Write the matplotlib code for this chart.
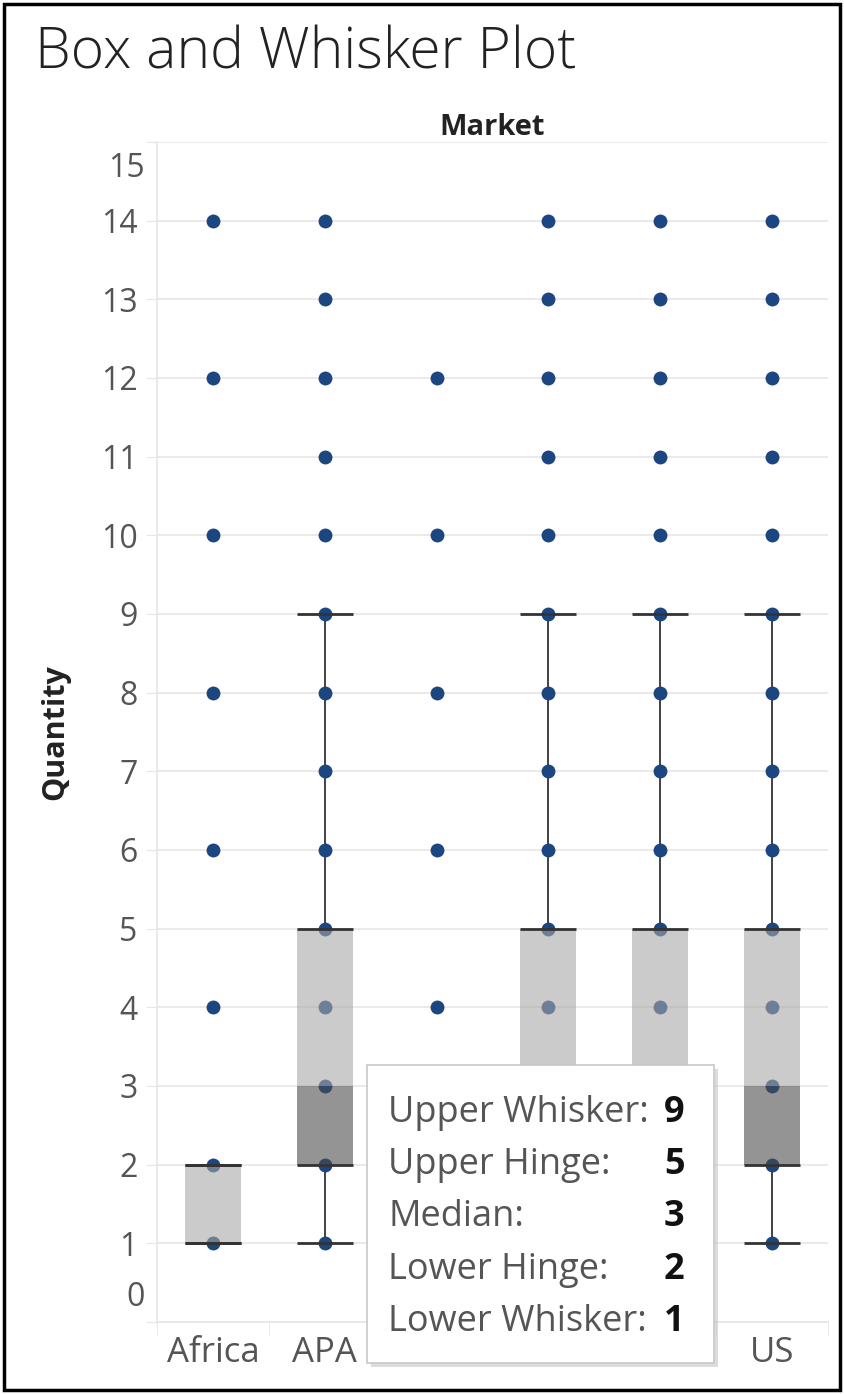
import matplotlib
matplotlib.use('Agg')
import matplotlib.pyplot as plt
from matplotlib.patches import Rectangle

plt.rcParams['font.family'] = ['Open Sans', 'DejaVu Sans']

markets = ['Africa', 'APA', 'Canada', 'EMEA', 'EU', 'US']
quantities = [
    [1, 2, 4, 6, 8, 10, 12, 14],
    list(range(1, 15)),
    [1, 2, 3, 4, 6, 8, 10, 12],
    list(range(1, 15)),
    list(range(1, 15)),
    list(range(1, 15)),
]
lower_whisker = [1, 1, 1, 1, 1, 1]
lower_hinge = [1, 2, 1, 2, 2, 2]
median = [1, 3, 2, 3, 3, 3]
upper_hinge = [2, 5, 2, 5, 5, 5]
upper_whisker = [2, 9, 3, 9, 9, 9]
tooltip_market = 'EMEA'

dot_color = '#1c4680'
grid_color = '#e6e6e6'
text_color = '#555555'

fig = plt.figure(figsize=(8.44, 13.94), dpi=100)
ax = fig.add_axes([157 / 844, 72 / 1394, 671 / 844, 1180 / 1394])

box_w = 0.5
for i, m in enumerate(markets):
    ax.plot([i] * len(quantities[i]), quantities[i], 'o', color=dot_color,
            ms=10, mec='none', zorder=3)
    # whiskers
    ax.plot([i, i], [lower_whisker[i], lower_hinge[i]], color='#222222', lw=1.2, zorder=2)
    ax.plot([i, i], [upper_hinge[i], upper_whisker[i]], color='#222222', lw=1.2, zorder=2)
    # boxes: lower part darker, upper part lighter
    ax.add_patch(Rectangle((i - box_w / 2, lower_hinge[i]), box_w, median[i] - lower_hinge[i],
                           facecolor='#4a4a4a', alpha=0.59, edgecolor='none', zorder=4))
    ax.add_patch(Rectangle((i - box_w / 2, median[i]), box_w, upper_hinge[i] - median[i],
                           facecolor='#a7a7a7', alpha=0.59, edgecolor='none', zorder=4))
    for y in [lower_whisker[i], lower_hinge[i], upper_hinge[i], upper_whisker[i]]:
        ax.plot([i - box_w / 2, i + box_w / 2], [y, y], color='#333333', lw=2, zorder=5,
                solid_capstyle='butt')

ax.set_xlim(-0.5, len(markets) - 0.5)
ax.set_ylim(0, 15)
ax.set_yticks(range(0, 16))
ax.set_yticklabels([''] + [str(v) for v in range(1, 15)] + [''])
ax.set_xticks(range(len(markets)))
ax.set_xticklabels(markets)
ax.set_xticks([i - 0.5 for i in range(len(markets) + 1)], minor=True)
ax.tick_params(axis='y', length=8, color=grid_color, labelsize=23, labelcolor=text_color, pad=6)
ax.tick_params(axis='x', which='major', length=0, labelsize=25, labelcolor=text_color, pad=10)
ax.tick_params(axis='x', which='minor', length=9, color=grid_color)
ax.grid(axis='y', color=grid_color, lw=1.2)
ax.set_axisbelow(True)
for s in ['top', 'right']:
    ax.spines[s].set_visible(False)
for s in ['left', 'bottom']:
    ax.spines[s].set_color(grid_color)
    ax.spines[s].set_linewidth(1.2)

# Tableau keeps the end labels inside the axis range
ax.annotate('0', xy=(0, 0), xycoords=('axes fraction', 'data'), xytext=(-9, 18),
            textcoords='offset points', ha='right', va='center', fontsize=23, color=text_color)
ax.annotate('15', xy=(0, 15), xycoords=('axes fraction', 'data'), xytext=(-9, -19),
            textcoords='offset points', ha='right', va='center', fontsize=23, color=text_color)

ax.set_ylabel('Quantity', fontsize=22, fontweight='bold', color='#222222')
ax.yaxis.set_label_coords(-0.13, 0.5)
ax.set_title('Market', fontsize=21, fontweight='bold', color='#222222', pad=4)

fig.text(35 / 844, 1 - 54 / 1394, 'Box and Whisker Plot', fontsize=41, fontweight='light',
         color='#222222', va='center', ha='left')

# hover tooltip
k = markets.index(tooltip_market)
tx0, ty0, tw, th = 367 / 844, 31 / 1394, 347 / 844, 298 / 1394
fig.patches.append(Rectangle((tx0 + 4 / 844, ty0 - 4 / 1394), tw, th, transform=fig.transFigure,
                             facecolor='#bbbbbb', edgecolor='none', alpha=0.5, zorder=10))
fig.patches.append(Rectangle((tx0, ty0), tw, th, transform=fig.transFigure,
                             facecolor='white', edgecolor='#c8c8c8', lw=1.2, zorder=11))
rows = [('Upper Whisker:', upper_whisker[k]), ('Upper Hinge:', upper_hinge[k]),
        ('Median:', median[k]), ('Lower Hinge:', lower_hinge[k]),
        ('Lower Whisker:', lower_whisker[k])]
for j, (lab, val) in enumerate(rows):
    yy = 1 - (1113 + j * 52.2) / 1394
    fig.text(388 / 844, yy, lab, fontsize=26, color=text_color, va='center', zorder=12)
    fig.text(664 / 844, yy, str(val), fontsize=26, fontweight='bold', color='#111111',
             va='center', zorder=12)

# outer frame
fig.patches.append(Rectangle((4 / 844, 4 / 1394), 836 / 844, 1386 / 1394, transform=fig.transFigure,
                             facecolor='none', edgecolor='black', lw=2.5, zorder=20))

fig.savefig('out.png', dpi=100)
